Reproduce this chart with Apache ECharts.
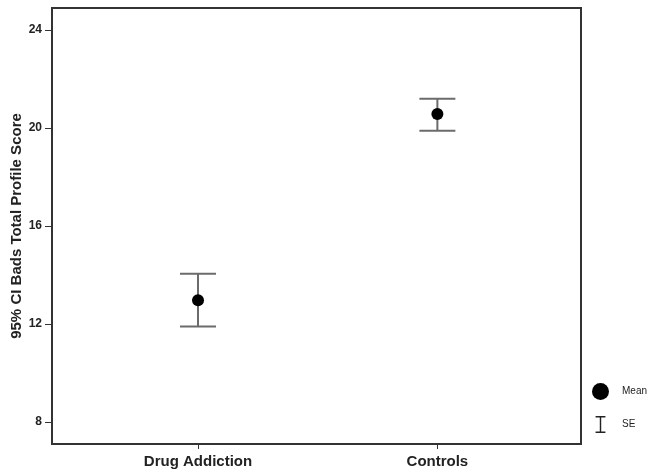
<!DOCTYPE html>
<html>
<head>
<meta charset="utf-8">
<script src="https://cdn.jsdelivr.net/npm/echarts@6/dist/echarts.min.js"></script>
<style>
  html, body { margin: 0; padding: 0; background: #ffffff; }
  #chart { width: 655px; height: 473px; }
</style>
</head>
<body>
<div id="chart"></div>
<script>
// Groups and their summary statistics (Bads total profile score)
const groups = ['Drug Addiction', 'Controls'];
const means = [12.97, 20.57];
const lowerBounds = [11.90, 19.89];
const upperBounds = [14.05, 21.19];
const yTicks = [8, 12, 16, 20, 24];

const FONT = '"Liberation Sans", Arial, sans-serif';

const chart = echarts.init(document.getElementById('chart'), null, { renderer: 'canvas' });

const meanData = groups.map((g, i) => [i, means[i]]);
const barData = groups.map((g, i) => [i, lowerBounds[i], upperBounds[i]]);

// I-beam glyph used for the error-bar legend entry
const iBeamIcon = 'path://M0,0H11V1.6H6.3V17.4H11V19H0V17.4H4.7V1.6H0Z';

chart.setOption({
  animation: false,
  backgroundColor: '#ffffff',
  grid: {
    left: 52, right: 74, top: 8, bottom: 29,
    outerBoundsMode: 'none',
    containLabel: false,
    show: true,
    borderColor: '#333333',
    borderWidth: 2,
    backgroundColor: 'transparent'
  },
  legend: {
    orient: 'vertical',
    left: 587,
    top: 378,
    itemWidth: 17,
    itemHeight: 17,
    itemGap: 16,
    selectedMode: false,
    textStyle: { fontFamily: FONT, fontSize: 10, color: '#222', padding: [0, 0, 0, 8] },
    data: [
      { name: 'Mean', icon: 'circle', itemStyle: { color: '#000', opacity: 1 } },
      { name: 'SE', icon: iBeamIcon, itemStyle: { color: '#222', opacity: 1 } }
    ]
  },
  xAxis: {
    type: 'value',
    min: -0.61,
    max: 1.6,
    splitLine: { show: false },
    axisLine: { show: true, onZero: false, lineStyle: { color: '#333', width: 2 } },
    axisTick: { show: true, customValues: [0, 1], length: 5, lineStyle: { color: '#333', width: 1 } },
    axisLabel: {
      customValues: [0, 1],
      formatter: v => groups[Math.round(v)] || '',
      fontFamily: FONT, fontWeight: 'bold', fontSize: 15, color: '#222', margin: 10
    }
  },
  yAxis: {
    type: 'value',
    min: 7.1,
    max: 24.9,
    name: '95% CI Bads Total Profile Score',
    nameLocation: 'middle',
    nameGap: 28,
    nameMoveOverlap: false,
    nameTextStyle: { fontFamily: FONT, fontWeight: 'bold', fontSize: 15, color: '#222' },
    splitLine: { show: false },
    axisLine: { show: true, onZero: false, lineStyle: { color: '#333', width: 2 } },
    axisTick: { show: true, customValues: yTicks, length: 7, lineStyle: { color: '#333', width: 1 } },
    axisLabel: {
      customValues: yTicks,
      fontFamily: FONT, fontWeight: 'bold', fontSize: 12, color: '#222', margin: 10
    }
  },
  series: [
    {
      name: 'SE',
      type: 'custom',
      data: barData,
      itemStyle: { color: '#222' },
      renderItem: function (params, api) {
        const x = api.value(0);
        const lo = api.coord([x, api.value(1)]);
        const hi = api.coord([x, api.value(2)]);
        const half = 18;
        const style = { stroke: '#6b6b6b', lineWidth: 2, fill: null };
        return {
          type: 'group',
          children: [
            { type: 'line', shape: { x1: lo[0], y1: lo[1], x2: hi[0], y2: hi[1] }, style },
            { type: 'line', shape: { x1: hi[0] - half, y1: hi[1], x2: hi[0] + half, y2: hi[1] }, style },
            { type: 'line', shape: { x1: lo[0] - half, y1: lo[1], x2: lo[0] + half, y2: lo[1] }, style }
          ]
        };
      },
      z: 2
    },
    {
      name: 'Mean',
      type: 'scatter',
      data: meanData,
      symbol: 'circle',
      symbolSize: 12,
      itemStyle: { color: '#000', opacity: 1 },
      z: 3
    }
  ]
});
</script>
</body>
</html>
